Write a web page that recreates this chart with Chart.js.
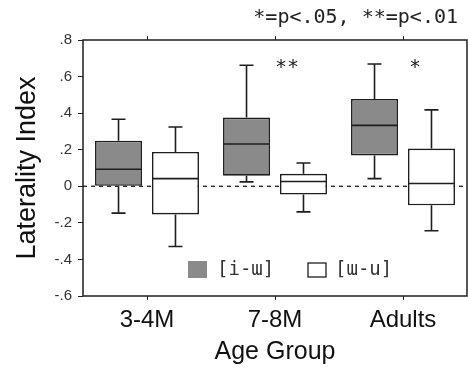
<!DOCTYPE html>
<html>
<head>
<meta charset="utf-8">
<script src="https://cdn.jsdelivr.net/npm/chart.js@4.4.1/dist/chart.umd.min.js"></script>
<style>
    body { margin: 0; background: #fff; }
    #wrap { width: 468px; height: 369px; }
</style>
</head>
<body>
<div id="wrap"><canvas id="grafico" width="468" height="369"></canvas></div>
<script>
const categorias = ['3-4M', '7-8M', 'Adults'];
const series = ['[i-ɯ]', '[ɯ-u]'];

// [i-ɯ]
const minIU = [-0.147, 0.024, 0.042];
const q1IU = [0.0, 0.058, 0.169];
const medIU = [0.093, 0.231, 0.333];
const q3IU = [0.249, 0.376, 0.478];
const maxIU = [0.367, 0.662, 0.669];

// [ɯ-u]
const minUU = [-0.329, -0.140, -0.243];
const q1UU = [-0.154, -0.045, -0.104];
const medUU = [0.042, 0.026, 0.015];
const q3UU = [0.188, 0.068, 0.206];
const maxUU = [0.324, 0.127, 0.418];

const significancia = ['', '**', '*'];
const notaSig = '*=p<.05, **=p<.01';

const corCinza = '#8a8a8a';
const corLinha = '#1e1e1e';

function montarCaixas(q1, q3) {
    let data = [];
    for (let i = 0; i < q1.length; i++) {
        data.push([q1[i], q3[i]]);
    }
    return data;
}

const bigodes = [
    { min: minIU, med: medIU, max: maxIU },
    { min: minUU, med: medUU, max: maxUU }
];

function formatarTick(valor) {
    let s = Number(valor).toFixed(1);
    if (s === '0.0' || s === '-0.0') return '0';
    return s.replace('0.', '.');
}

const linhaZero = {
    id: 'linhaZero',
    beforeDatasetsDraw(chart) {
        const { ctx, chartArea, scales } = chart;
        const y = scales.y.getPixelForValue(0);
        ctx.save();
        ctx.strokeStyle = corLinha;
        ctx.lineWidth = 1.3;
        ctx.setLineDash([4, 4]);
        ctx.beginPath();
        ctx.moveTo(chartArea.left, y);
        ctx.lineTo(chartArea.right, y);
        ctx.stroke();
        ctx.restore();
    }
};

const extrasBoxplot = {
    id: 'extrasBoxplot',
    afterDatasetsDraw(chart) {
        const { ctx, chartArea, scales } = chart;
        const y = scales.y;
        ctx.save();
        ctx.strokeStyle = corLinha;
        ctx.lineWidth = 1.6;

        for (let d = 0; d < chart.data.datasets.length; d++) {
            const meta = chart.getDatasetMeta(d);
            const b = bigodes[d];
            for (let i = 0; i < meta.data.length; i++) {
                const bar = meta.data[i];
                const x = bar.x;
                const meia = bar.width / 2;
                const capa = 7;
                const caixa = chart.data.datasets[d].data[i];

                ctx.beginPath();
                // mediana
                ctx.moveTo(x - meia, y.getPixelForValue(b.med[i]));
                ctx.lineTo(x + meia, y.getPixelForValue(b.med[i]));
                // bigode de cima
                ctx.moveTo(x, y.getPixelForValue(caixa[1]));
                ctx.lineTo(x, y.getPixelForValue(b.max[i]));
                ctx.moveTo(x - capa, y.getPixelForValue(b.max[i]));
                ctx.lineTo(x + capa, y.getPixelForValue(b.max[i]));
                // bigode de baixo
                ctx.moveTo(x, y.getPixelForValue(caixa[0]));
                ctx.lineTo(x, y.getPixelForValue(b.min[i]));
                ctx.moveTo(x - capa, y.getPixelForValue(b.min[i]));
                ctx.lineTo(x + capa, y.getPixelForValue(b.min[i]));
                ctx.stroke();
            }
        }

        // borda da area do grafico
        ctx.lineWidth = 1.5;
        ctx.strokeRect(chartArea.left, chartArea.top, chartArea.right - chartArea.left, chartArea.bottom - chartArea.top);

        // asteriscos de significancia
        ctx.fillStyle = '#222';
        ctx.font = '20px "DejaVu Sans Mono"';
        ctx.textAlign = 'center';
        ctx.textBaseline = 'middle';
        for (let i = 0; i < significancia.length; i++) {
            if (significancia[i]) {
                const xs = scales.x.getPixelForValue(i) + 12;
                ctx.fillText(significancia[i], xs, y.getPixelForValue(0.665) + 3);
            }
        }

        // nota no topo
        ctx.textAlign = 'right';
        ctx.fillText(notaSig, chart.width - 10, 18);

        // legenda dentro do grafico
        const lx = chartArea.left + 105;
        const ly = chartArea.top + 230;
        ctx.font = '19px "DejaVu Sans Mono"';
        ctx.textAlign = 'left';
        ctx.fillStyle = corCinza;
        ctx.fillRect(lx, ly - 9, 19, 17);
        ctx.fillStyle = '#333';
        ctx.fillText(series[0], lx + 29, ly);

        ctx.fillStyle = '#fff';
        ctx.lineWidth = 1.3;
        ctx.fillRect(lx + 120, ly - 7, 18, 14);
        ctx.strokeRect(lx + 120, ly - 7, 18, 14);
        ctx.fillStyle = '#333';
        ctx.fillText(series[1], lx + 147, ly);

        ctx.restore();
    }
};

const ctxGrafico = document.getElementById('grafico');

const grafico = new Chart(ctxGrafico, {
    type: 'bar',
    data: {
        labels: categorias,
        datasets: [
            {
                label: series[0],
                data: montarCaixas(q1IU, q3IU),
                backgroundColor: corCinza,
                borderColor: corLinha,
                borderWidth: 1.6,
                borderSkipped: false,
                categoryPercentage: 0.89,
                barPercentage: 0.825
            },
            {
                label: series[1],
                data: montarCaixas(q1UU, q3UU),
                backgroundColor: '#ffffff',
                borderColor: corLinha,
                borderWidth: 1.6,
                borderSkipped: false,
                categoryPercentage: 0.89,
                barPercentage: 0.825
            }
        ]
    },
    options: {
        responsive: false,
        animation: false,
        layout: { padding: { top: 36, right: 1, left: 0, bottom: 0 } },
        plugins: {
            legend: { display: false },
            tooltip: { enabled: false }
        },
        scales: {
            x: {
                type: 'category',
                offset: true,
                grid: { offset: false, drawOnChartArea: false, tickLength: 4, color: '#222' },
                border: { display: false },
                ticks: {
                    color: '#111',
                    padding: 6,
                    font: { family: 'Liberation Sans', size: 24 }
                },
                title: {
                    display: true,
                    text: 'Age Group',
                    color: '#111',
                    font: { family: 'Liberation Sans', size: 25, lineHeight: 1 },
                    padding: { top: 0, bottom: 4 }
                },
                afterFit(scale) { scale.height = 73; }
            },
            xTopo: {
                type: 'category',
                position: 'top',
                labels: categorias,
                offset: true,
                grid: { offset: false, drawOnChartArea: false, tickLength: 4, color: '#222' },
                border: { display: false },
                ticks: { display: false },
                afterFit(scale) { scale.height = 4; }
            },
            y: {
                min: -0.6,
                max: 0.8,
                grid: { drawOnChartArea: false, tickLength: 5, color: '#222' },
                border: { display: false },
                ticks: {
                    stepSize: 0.2,
                    color: '#333',
                    padding: 6,
                    font: { family: 'Liberation Sans', size: 15 },
                    callback: formatarTick
                },
                title: {
                    display: true,
                    text: 'Laterality Index',
                    color: '#111',
                    font: { family: 'Liberation Sans', size: 27, lineHeight: 1 },
                    padding: { top: 14, bottom: 0 }
                },
                afterFit(scale) { scale.width = 83; }
            }
        }
    },
    plugins: [linhaZero, extrasBoxplot]
});
</script>
</body>
</html>
